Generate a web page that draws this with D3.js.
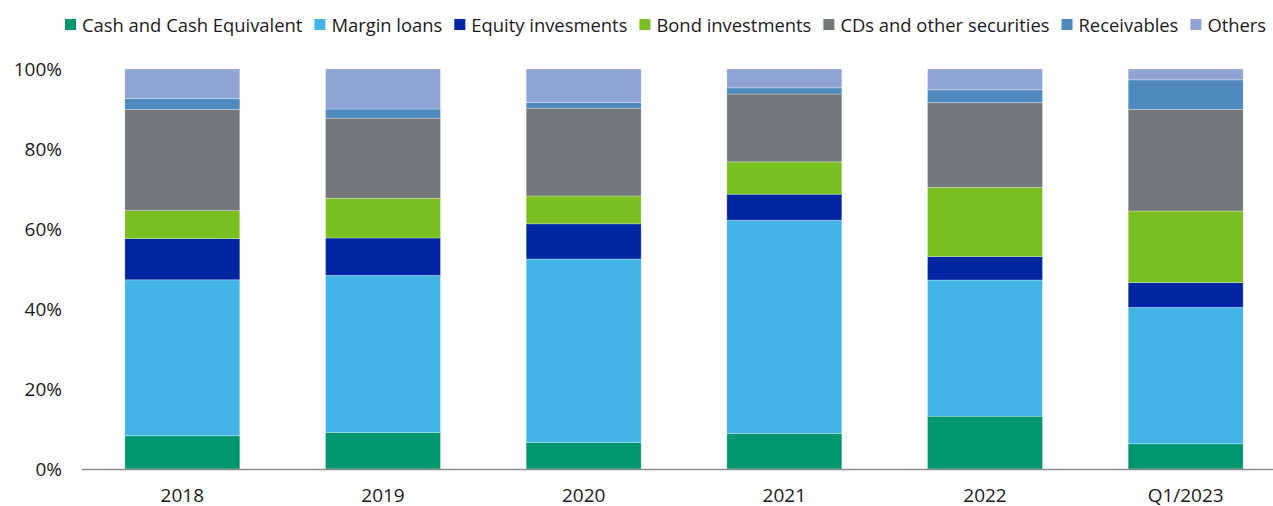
<!DOCTYPE html>
<html>
<head>
<meta charset="utf-8">
<script src="https://cdn.jsdelivr.net/npm/d3@7"></script>
<style>
  html, body { margin: 0; padding: 0; background: #ffffff; }
  svg { display: block; font-family: "Open Sans", "Noto Sans", sans-serif; }
</style>
</head>
<body>
<svg id="chart" width="1273" height="506"></svg>
<script>
// Asset structure by period, share of total (%)
const periods = ["2018", "2019", "2020", "2021", "2022", "Q1/2023"];
const seriesNames = [
  "Cash and Cash Equivalent",
  "Margin loans",
  "Equity invesments",
  "Bond investments",
  "CDs and other securities",
  "Receivables",
  "Others"
];
const cash        = [8.3, 9.1, 6.6, 8.9, 13.2, 6.3];
const marginLoans = [39.0, 39.3, 45.9, 53.3, 34.05, 34.1];
const equity      = [10.3, 9.35, 8.8, 6.5, 5.85, 6.2];
const bonds       = [7.0, 9.95, 6.95, 8.1, 17.3, 17.9];
const cds         = [25.3, 20.0, 21.95, 16.95, 21.2, 25.4];
const receivables = [2.7, 2.3, 1.4, 1.55, 3.2, 7.4];
const others      = [7.4, 10.0, 8.4, 4.7, 5.2, 2.7];
const yTicks = [0, 20, 40, 60, 80, 100];

const colors = ["#00966f", "#42b4e6", "#0027a1", "#7abf21", "#75787b", "#4e8abe", "#8fa4d5"];

const seriesValues = [cash, marginLoans, equity, bonds, cds, receivables, others];
const rows = periods.map((p, i) => {
  const row = { period: p };
  seriesNames.forEach((s, k) => { row[s] = seriesValues[k][i]; });
  return row;
});

const svg = d3.select("#chart");
const W = 1273;
const plotLeft = 82, plotBottom = 469, plotTop = 69;

const x = d3.scaleBand()
  .domain(periods)
  .range([plotLeft, 1286])
  .paddingInner(0.427)
  .paddingOuter(0.2135);

const y = d3.scaleLinear().domain([0, 100]).range([plotBottom, plotTop]);

const stacked = d3.stack().keys(seriesNames)(rows);
const color = d3.scaleOrdinal().domain(seriesNames).range(colors);

// Stacked bars
svg.append("g")
  .selectAll("g")
  .data(stacked)
  .join("g")
    .attr("fill", d => color(d.key))
  .selectAll("rect")
  .data(d => d)
  .join("rect")
    .attr("x", d => x(d.data.period))
    .attr("width", x.bandwidth())
    .attr("y", d => y(d[1]))
    .attr("height", d => y(d[0]) - y(d[1]))
    .attr("stroke", "#ffffff")
    .attr("stroke-opacity", 0.35)
    .attr("stroke-width", 0.8);

// Y axis labels
const yAxis = svg.append("g")
  .attr("transform", `translate(${plotLeft},0)`)
  .call(d3.axisLeft(y).tickValues(yTicks).tickSize(0).tickPadding(20).tickFormat(d => d + "%"));
yAxis.select(".domain").remove();
yAxis.selectAll("text")
  .attr("font-size", 19)
  .attr("font-family", "'Open Sans', sans-serif")
  .attr("fill", "#1a1a1a");

// X axis
const xAxis = svg.append("g")
  .attr("transform", `translate(0,${plotBottom})`)
  .call(d3.axisBottom(x).tickSize(0).tickPadding(20));
xAxis.select(".domain").remove();
xAxis.selectAll("text")
  .attr("font-size", 19)
  .attr("font-family", "'Open Sans', sans-serif")
  .attr("fill", "#1a1a1a");

svg.append("line")
  .attr("x1", plotLeft).attr("x2", W)
  .attr("y1", plotBottom + 0.5).attr("y2", plotBottom + 0.5)
  .attr("stroke", "#8c8c8c")
  .attr("stroke-width", 1.3);

// Legend, laid out left to right
const legend = svg.append("g").attr("transform", "translate(65,0)");
let cursor = 0;
seriesNames.forEach((name, i) => {
  const item = legend.append("g").attr("transform", `translate(${cursor},0)`);
  item.append("rect")
    .attr("x", 0).attr("y", 19)
    .attr("width", 11).attr("height", 11)
    .attr("fill", colors[i]);
  const t = item.append("text")
    .attr("x", 17).attr("y", 32)
    .attr("font-size", 18.4)
    .attr("fill", "#1a1a1a")
    .text(name);
  cursor += 17 + t.node().getComputedTextLength() + 12;
});
</script>
</body>
</html>
